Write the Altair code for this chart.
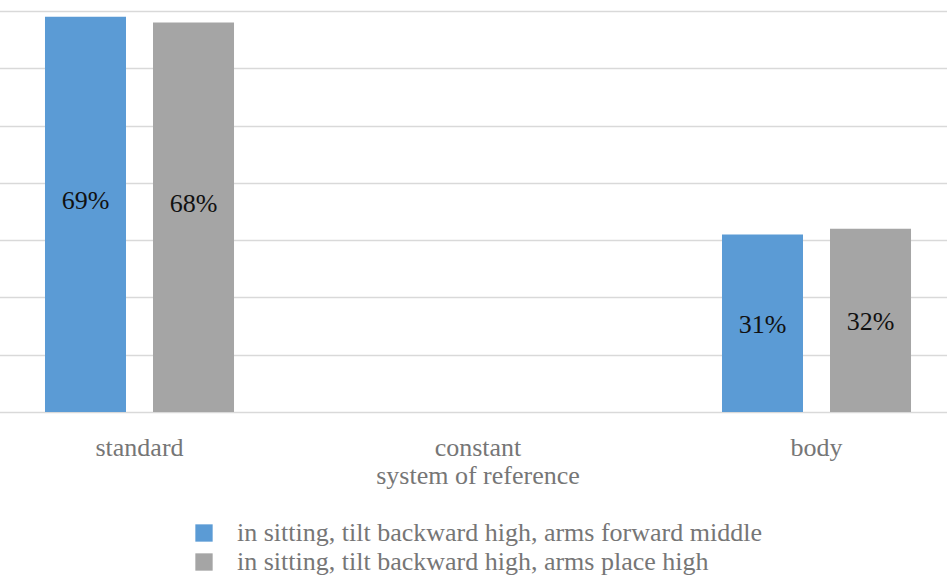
import altair as alt
import pandas as pd

# Share of responses per system of reference, for two sitting postures
categories = ["standard", "constant|system of reference", "body"]
series = [
    "in sitting, tilt backward high, arms forward middle",
    "in sitting, tilt backward high, arms place high",
]
forward_middle = [69, 0, 31]
place_high = [68, 0, 32]
colors = ["#5B9BD5", "#A5A5A5"]
grid_values = [0, 10, 20, 30, 40, 50, 60, 70]

rows = []
for cat, a, b in zip(categories, forward_middle, place_high):
    rows.append({"category": cat, "series": series[0], "value": a})
    rows.append({"category": cat, "series": series[1], "value": b})
df = pd.DataFrame(rows)

FONT = "Liberation Serif"
TEXT_GRAY = "#767676"
FS = 26

x_enc = alt.X(
    "category:N",
    sort=categories,
    title=None,
    scale=alt.Scale(range=[-39.75, 975.75], paddingInner=0, paddingOuter=0),
    axis=alt.Axis(
        labelExpr="split(datum.label, '|')",
        labelAngle=0,
        labelFont=FONT,
        labelFontSize=FS,
        labelColor=TEXT_GRAY,
        labelPadding=22,
        labelLineHeight=28,
        labelOverlap=False,
        labelBound=False,
        labelFlush=False,
        labelLimit=1000,
        ticks=False,
        domain=False,
        grid=False,
    ),
)

y_enc = alt.Y(
    "value:Q",
    scale=alt.Scale(domain=[0, 70], nice=False),
    axis=alt.Axis(
        title=None,
        labels=False,
        ticks=False,
        domain=False,
        values=grid_values,
        gridColor="#d9d9d9",
        gridWidth=1.5,
    ),
)

x_off = alt.XOffset(
    "series:N",
    sort=series,
    scale=alt.Scale(paddingInner=0.25, paddingOuter=0.692),
)

bars = alt.Chart(df).mark_bar().encode(
    x=x_enc,
    xOffset=x_off,
    y=y_enc,
    color=alt.Color(
        "series:N",
        sort=series,
        scale=alt.Scale(domain=series, range=colors),
        legend=alt.Legend(
            title=None,
            orient="none",
            legendX=181,
            legendY=509,
            direction="vertical",
            symbolType="square",
            symbolSize=300,
            symbolStrokeWidth=0,
            symbolOpacity=1,
            labelFont=FONT,
            labelFontSize=FS,
            labelColor=TEXT_GRAY,
            labelOffset=20,
            rowPadding=3,
            labelLimit=800,
        ),
    ),
)

# value labels sit inside each bar, a little above its middle
labels = (
    alt.Chart(df)
    .transform_filter("datum.value > 0")
    .transform_calculate(mid="datum.value * 0.57", txt="datum.value + '%'")
    .mark_text(font=FONT, fontSize=FS, color="#111111", baseline="middle", dy=14)
    .encode(
        x=alt.X("category:N", sort=categories),
        xOffset=alt.XOffset("series:N", sort=series),
        y=alt.Y("mid:Q"),
        text=alt.Text("txt:N"),
    )
)

chart = (
    alt.layer(bars, labels)
    .properties(
        width=937,
        height=401,
        autosize=alt.AutoSizeParams(type="none"),
        padding={"left": 10, "top": 11, "right": 0, "bottom": 165},
        background="white",
    )
    .configure_view(stroke=None)
)

chart.save("out.html", embed_options={"renderer": "svg", "actions": False})
